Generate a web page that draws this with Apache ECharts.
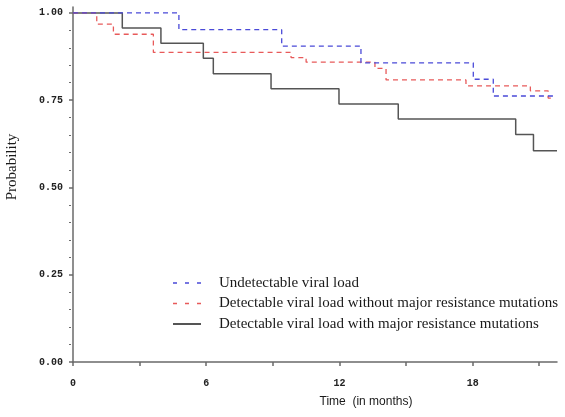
<!DOCTYPE html>
<html>
<head>
<meta charset="utf-8">
<script src="https://cdn.jsdelivr.net/npm/echarts@6/dist/echarts.min.js"></script>
<style>html,body{margin:0;padding:0;background:#fff;}#c{width:565px;height:417px;}</style>
</head>
<body>
<div id="c"></div>
<script>
// Series names
const seriesNames = [
  'Undetectable viral load',
  'Detectable viral load without major resistance mutations',
  'Detectable viral load with major resistance mutations'
];
// Undetectable viral load (time in months, survival probability)
const undetTimes = [0, 4.77, 9.4, 12.97, 18.03, 18.93, 21.7];
const undetProb  = [1, 0.952, 0.905, 0.857, 0.81, 0.762, 0.762];
// Detectable without major resistance mutations
const detNoResTimes = [0, 1.07, 1.82, 3.62, 9.82, 10.5, 13.6, 14.1, 17.7, 20.6, 21.4, 21.7];
const detNoResProb  = [1, 0.968, 0.939, 0.887, 0.872, 0.859, 0.841, 0.808, 0.791, 0.777, 0.756, 0.756];
// Detectable with major resistance mutations
const detResTimes = [0, 2.22, 3.96, 5.87, 6.32, 8.92, 11.98, 14.65, 19.94, 20.74, 21.8];
const detResProb  = [1, 0.957, 0.913, 0.870, 0.826, 0.783, 0.739, 0.696, 0.652, 0.605, 0.605];
// Axis ticks
const xTickValues = [0, 3, 6, 9, 12, 15, 18, 21];
const xLabelValues = [0, 6, 12, 18];
const yLabelValues = [0, 0.25, 0.5, 0.75, 1.0];
const yMinorValues = [0.05,0.1,0.15,0.2,0.3,0.35,0.4,0.45,0.55,0.6,0.65,0.7,0.8,0.85,0.9,0.95];

function zip(a, b) { return a.map((v, i) => [v, b[i]]); }

const chart = echarts.init(document.getElementById('c'), null, {renderer: 'canvas'});
const axisColor = '#6a6a6a';
const blue = '#4a4ad8', red = '#e85a5a', dark = '#555';
const option = {
  animation: false,
  backgroundColor: '#fff',
  grid: {left: 73, right: 8, top: 7, bottom: 55, containLabel: false},
  xAxis: {
    type: 'value', min: 0, max: 21.8, offset: 4,
    axisLine: {lineStyle: {color: axisColor, width: 1.5}},
    axisTick: {show: true, customValues: xTickValues, length: 4, lineStyle: {color: axisColor, width: 1.5}},
    axisLabel: {customValues: xLabelValues, margin: 12, fontFamily: 'Liberation Mono', fontWeight: 'bold', fontSize: 10, color: '#222'},
    splitLine: {show: false}
  },
  yAxis: [{
    type: 'value', min: 0, max: 1.017, offset: 2,
    axisLine: {show: true, lineStyle: {color: axisColor, width: 1.5}},
    axisTick: {show: true, customValues: yLabelValues, length: 4, lineStyle: {color: axisColor, width: 1.5}},
    axisLabel: {customValues: yLabelValues, margin: 8, fontFamily: 'Liberation Mono', fontWeight: 'bold', fontSize: 10, color: '#222',
      formatter: v => v.toFixed(2)},
    splitLine: {show: false}
  }, {
    type: 'value', min: 0, max: 1.017, offset: 2, position: 'left',
    axisLine: {show: false},
    axisTick: {show: true, customValues: yMinorValues, length: 2, lineStyle: {color: axisColor, width: 1.2}},
    axisLabel: {show: false},
    splitLine: {show: false}
  }],
  legend: {
    orient: 'vertical', left: 167, top: 270,
    itemWidth: 28, itemHeight: 14, itemGap: 4.5,
    data: [
      {name: seriesNames[0], lineStyle: {type: [4, 8], width: 1.3}},
      {name: seriesNames[1], lineStyle: {type: [4, 8], width: 1.3}},
      {name: seriesNames[2]}
    ],
    itemStyle: {opacity: 0},
    textStyle: {fontFamily: 'Liberation Serif', fontSize: 15, color: '#1a1a1a', padding: [0, 0, 0, 13], lineHeight: 16}
  },
  series: [
    {name: seriesNames[2], type: 'line', step: 'end', symbol: 'none', data: zip(detResTimes, detResProb),
      lineStyle: {color: dark, width: 1.5, type: 'solid'}, itemStyle: {color: dark}},
    {name: seriesNames[1], type: 'line', step: 'end', symbol: 'none', data: zip(detNoResTimes, detNoResProb),
      lineStyle: {color: red, width: 1.3, type: [5, 4]}, itemStyle: {color: red}},
    {name: seriesNames[0], type: 'line', step: 'end', symbol: 'none', data: zip(undetTimes, undetProb),
      lineStyle: {color: blue, width: 1.3, type: [5, 4]}, itemStyle: {color: blue}}
  ],
  graphic: [
    {type: 'text', x: 12, y: 167, rotation: Math.PI / 2,
      style: {text: 'Probability', font: '15px "Liberation Serif"', fill: '#1a1a1a', align: 'center', verticalAlign: 'middle'}},
    {type: 'text', x: 366, y: 402,
      style: {text: 'Time  (in months)', font: '12px "Liberation Sans"', fill: '#1a1a1a', align: 'center', verticalAlign: 'middle'}}
  ]
};
chart.setOption(option);
</script>
</body>
</html>
